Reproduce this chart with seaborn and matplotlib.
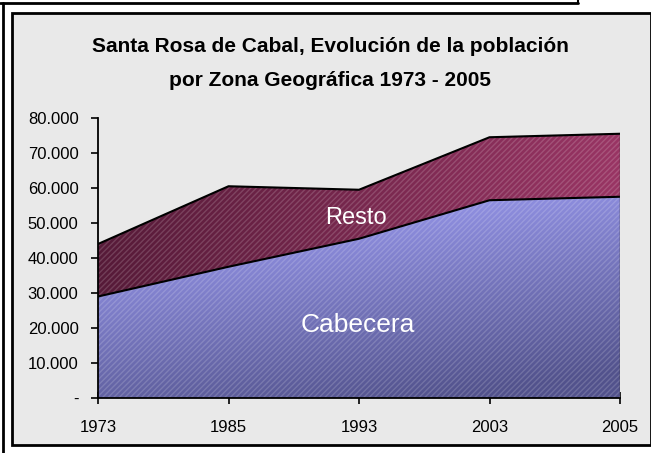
import numpy as np
import matplotlib
matplotlib.use("Agg")
import matplotlib.pyplot as plt
import seaborn as sns
from matplotlib.patches import Rectangle
from matplotlib.lines import Line2D
from matplotlib.ticker import FuncFormatter

years = ["1973", "1985", "1993", "2003", "2005"]
cabecera = [29000, 37500, 45500, 56500, 57500]
resto = [15000, 23000, 14000, 18000, 18000]

total = [c + r for c, r in zip(cabecera, resto)]
pos = np.arange(len(years))

sns.set_style("white")
plt.rcParams["font.family"] = ["Liberation Sans Narrow", "Liberation Sans", "DejaVu Sans"]
plt.rcParams["text.color"] = "black"

fig = plt.figure(figsize=(6.51, 4.53), dpi=100)
fig.patch.set_facecolor("white")

# chart frame and background
fig.patches.append(Rectangle((12 / 651, 8 / 453), 639 / 651, 432 / 453, transform=fig.transFigure,
                             facecolor="#e9e9e9", edgecolor="black", lw=2, zorder=-5))
fig.lines.append(Line2D([0, 578 / 651], [1 - 3 / 453] * 2, transform=fig.transFigure, color="black", lw=2))
fig.lines.append(Line2D([578 / 651] * 2, [1, 1 - 3 / 453], transform=fig.transFigure, color="black", lw=1.5))
fig.lines.append(Line2D([3 / 651] * 2, [0, 1 - 3 / 453], transform=fig.transFigure, color="black", lw=2))

ax = fig.add_axes([98 / 651, 55 / 453, 522 / 651, 280 / 453])
ax.set_facecolor("none")
ax.set_zorder(2)


def gradient_fill(lower, upper, c1, c2, direction):
    poly = ax.fill_between(pos, lower, upper, facecolor="none", lw=0)
    n = 256
    t = np.linspace(0, 1, n)
    if direction == "h":
        g = np.tile(t, (n, 1))
    else:
        xx, yy = np.meshgrid(t, t)
        g = np.clip(0.3 * xx + 0.8 * yy, 0, 1)
    c1 = np.array(matplotlib.colors.to_rgb(c1))
    c2 = np.array(matplotlib.colors.to_rgb(c2))
    img = c1[None, None, :] * (1 - g[..., None]) + c2[None, None, :] * g[..., None]
    top = max(upper)
    im = ax.imshow(img, extent=[0, 4, 0, top], origin="upper", aspect="auto", zorder=1)
    im.set_clip_path(poly.get_paths()[0], transform=ax.transData)
    ax.fill_between(pos, lower, upper, facecolor="none", edgecolor=(1, 1, 1, 0.16),
                    hatch="//////", lw=0, zorder=2)


gradient_fill(np.zeros(len(pos)), cabecera, "#a3a3fc", "#52528c", "v")
gradient_fill(cabecera, total, "#561a38", "#993564", "h")

sns.lineplot(x=pos, y=cabecera, color="black", lw=1.5, ax=ax, zorder=3)
sns.lineplot(x=pos, y=total, color="black", lw=1.5, ax=ax, zorder=3)
ax.plot([4, 4], [0, total[-1]], color="#333333", lw=1, zorder=3)

ax.set_xlim(0, 4)
ax.set_ylim(0, 80000)
ax.set_xticks(pos)
ax.set_xticklabels(years)
ax.set_yticks(np.arange(0, 80001, 10000))
ax.yaxis.set_major_formatter(FuncFormatter(lambda v, p: "-" if v == 0 else f"{int(v):,}".replace(",", ".")))
for s in ["top", "right"]:
    ax.spines[s].set_visible(False)
for s in ["left", "bottom"]:
    ax.spines[s].set_color("black")
    ax.spines[s].set_linewidth(1.3)
ax.tick_params(axis="y", left=True, direction="out", length=5, width=1.2, labelsize=12, pad=9, colors="black")
ax.tick_params(axis="x", bottom=True, direction="inout", length=9, width=1.2, labelsize=12, pad=11,
               colors="black")

ax.text(1.98, 51500, "Resto", color="white", fontsize=17, ha="center", va="center", zorder=4)
ax.text(1.99, 21000, "Cabecera", color="white", fontsize=19, ha="center", va="center", zorder=4)

fig.text(330 / 651, 1 - 47 / 453, "Santa Rosa de Cabal, Evolución de la población",
         fontsize=15, fontweight="bold", ha="center", va="center")
fig.text(330 / 651, 1 - 81 / 453, "por Zona Geográfica 1973 - 2005",
         fontsize=15, fontweight="bold", ha="center", va="center")

fig.savefig("out.png", dpi=100)
